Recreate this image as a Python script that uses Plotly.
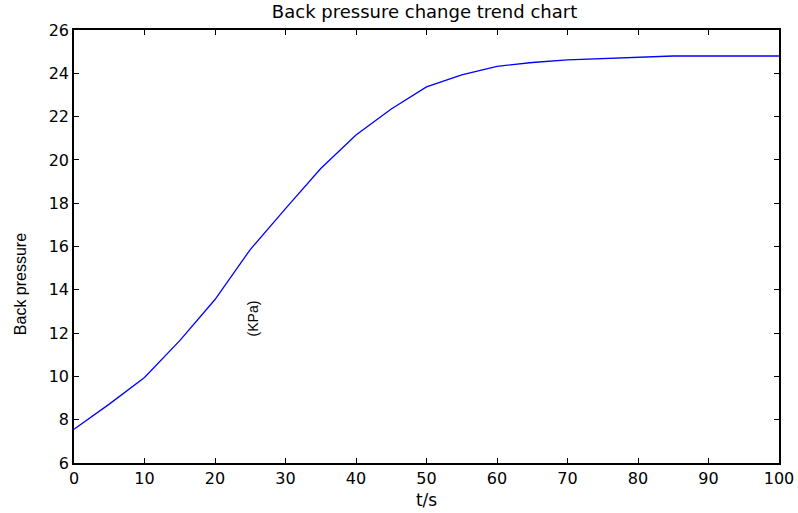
import plotly.graph_objects as go

t_values = [0, 5, 10, 15, 20, 25, 30, 35, 40, 45, 50, 55, 60, 65, 70, 75, 80, 85, 90, 95, 100]
back_pressure = [7.56, 8.72, 9.95, 11.65, 13.55, 15.86, 17.75, 19.6, 21.15, 22.35, 23.37,
                 23.93, 24.32, 24.5, 24.62, 24.67, 24.73, 24.8, 24.8, 24.8, 24.8]

title_text = "Back pressure change trend chart"
x_title = "t/s"
y_title = "Back pressure"
unit_text = "(KPa)"

fig = go.Figure()
fig.add_trace(go.Scatter(x=t_values, y=back_pressure, mode="lines",
                         line=dict(color="#0000ff", width=1.3), showlegend=False))

axis_common = dict(showline=True, linecolor="black", linewidth=1.5, mirror="ticks",
                   ticks="inside", ticklen=5, tickwidth=1, tickcolor="black",
                   showgrid=False, zeroline=False, automargin=False,
                   tickfont=dict(family="DejaVu Sans", size=16, color="black"))

fig.update_layout(
    width=798, height=513,
    margin=dict(l=74, r=19, t=30, b=50, autoexpand=False),
    paper_bgcolor="white", plot_bgcolor="white",
    title=dict(text=title_text, x=0.532, xanchor="center", y=0.978, yanchor="middle",
               yref="container",
               font=dict(family="DejaVu Sans", size=18, color="black")),
    xaxis=dict(range=[0, 100], tickmode="linear", tick0=0, dtick=10,
               title=dict(text=x_title, standoff=7,
                          font=dict(family="DejaVu Sans", size=17, color="black")),
               **axis_common),
    yaxis=dict(range=[6, 26], tickmode="linear", tick0=6, dtick=2, **axis_common),
)

fig.add_annotation(text=y_title, xref="paper", yref="paper", x=-0.0766, y=0.413,
                   showarrow=False, textangle=-90, xanchor="center", yanchor="middle",
                   font=dict(family="Liberation Sans", size=16, color="black"))

fig.add_annotation(text=unit_text, xref="paper", yref="paper", x=0.239, y=0.335,
                   showarrow=False, textangle=-90,
                   font=dict(family="Liberation Sans", size=14, color="black"))

fig.write_html("out.html", config={"displayModeBar": False},
               post_script="document.body.style.margin='0';document.body.style.overflow='hidden';")
